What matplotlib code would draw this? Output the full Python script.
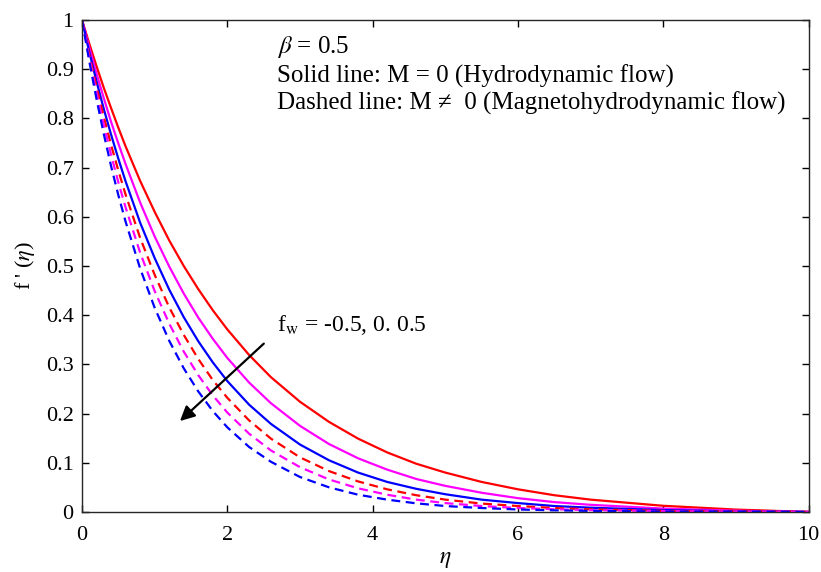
import matplotlib
matplotlib.use('Agg')
import matplotlib.pyplot as plt

plt.rcParams['font.family'] = ['Liberation Serif', 'DejaVu Serif']
plt.rcParams['mathtext.fontset'] = 'stix'

eta = [0, 0.1, 0.2, 0.3, 0.4, 0.5, 0.6, 0.8, 1.0, 1.2, 1.4, 1.6, 1.8, 2.0, 2.3, 2.6,
       3.0, 3.4, 3.8, 4.2, 4.6, 5.0, 5.5, 6.0, 6.5, 7.0, 8.0, 9.0, 10.0]

# solid lines: M = 0, fw = -0.5, 0, 0.5
solid_red = [1, 0.952, 0.906, 0.862, 0.821, 0.781, 0.743, 0.673, 0.610, 0.552, 0.500,
             0.453, 0.410, 0.371, 0.319, 0.274, 0.224, 0.183, 0.149, 0.121, 0.098,
             0.080, 0.061, 0.046, 0.034, 0.025, 0.0125, 0.0048, 0]
solid_magenta = [1, 0.944, 0.891, 0.841, 0.793, 0.749, 0.707, 0.629, 0.560, 0.499, 0.444,
                 0.395, 0.352, 0.313, 0.263, 0.221, 0.175, 0.138, 0.109, 0.086, 0.067,
                 0.053, 0.039, 0.028, 0.020, 0.0145, 0.0068, 0.0025, 0]
solid_blue = [1, 0.935, 0.875, 0.819, 0.767, 0.718, 0.672, 0.588, 0.516, 0.452, 0.396,
              0.347, 0.304, 0.266, 0.218, 0.179, 0.137, 0.105, 0.080, 0.061, 0.047,
              0.036, 0.025, 0.018, 0.012, 0.0086, 0.0038, 0.0012, 0]

# dashed lines: M != 0
dash_red = [1, 0.929, 0.864, 0.803, 0.746, 0.694, 0.645, 0.557, 0.482, 0.416, 0.360,
            0.311, 0.268, 0.232, 0.186, 0.149, 0.111, 0.083, 0.062, 0.046, 0.034,
            0.025, 0.017, 0.012, 0.008, 0.0053, 0.0022, 0.0007, 0]
dash_magenta = [1, 0.923, 0.852, 0.787, 0.726, 0.670, 0.619, 0.527, 0.449, 0.383, 0.326,
                0.278, 0.237, 0.202, 0.159, 0.125, 0.091, 0.066, 0.048, 0.035, 0.025,
                0.018, 0.012, 0.008, 0.0055, 0.0037, 0.0017, 0.0007, 0]
dash_blue = [1, 0.916, 0.839, 0.768, 0.703, 0.644, 0.590, 0.495, 0.415, 0.348, 0.292,
             0.245, 0.205, 0.172, 0.132, 0.102, 0.071, 0.050, 0.035, 0.025, 0.0175,
             0.012, 0.008, 0.005, 0.0033, 0.0021, 0.0009, 0.0004, 0]

fig = plt.figure(figsize=(8.21, 5.72), dpi=100)
ax = fig.add_axes([0.0999, 0.105, 0.885, 0.86])

lw = 1.6
ax.plot(eta, solid_red, color='#ff0000', lw=lw)
ax.plot(eta, solid_magenta, color='#ff00ff', lw=lw)
ax.plot(eta, solid_blue, color='#0000ff', lw=lw)
ax.plot(eta, dash_red, color='#ff0000', lw=lw, dashes=(4, 2.5))
ax.plot(eta, dash_magenta, color='#ff00ff', lw=lw, dashes=(4, 2.5))
ax.plot(eta, dash_blue, color='#0000ff', lw=lw, dashes=(4, 2.5))

ax.set_xlim(0, 10)
ax.set_ylim(0, 1)
ax.set_xticks([0, 2, 4, 6, 8, 10])
ax.set_yticks([i / 10 for i in range(11)])
ax.set_yticklabels(['0', '0.1', '0.2', '0.3', '0.4', '0.5', '0.6', '0.7', '0.8', '0.9', '1'])
ax.tick_params(direction='in', top=True, right=True, labelsize=16, length=5, width=1)
ax.tick_params(axis='x', pad=10)
ax.tick_params(axis='y', pad=6)
for s in ax.spines.values():
    s.set_linewidth(1)
    s.set_color('#262626')

ax.set_xlabel(r'$\eta$', fontsize=17, labelpad=3)
ax.set_ylabel(r"f ' ($\eta$)", fontsize=16, labelpad=6)

ax.text(2.69, 0.945, r'$\beta$ = 0.5', fontsize=18, va='center')
ax.text(2.69, 0.886, 'Solid line: M = 0 (Hydrodynamic flow)', fontsize=18, va='center')
ax.text(2.69, 0.831, 'Dashed line: M \u2260  0 (Magnetohydrodynamic flow)', fontsize=18, va='center')
ax.text(2.69, 0.38, r'f$_\mathrm{w}$ = -0.5, 0. 0.5', fontsize=17, va='center')

ax.annotate('', xy=(1.32, 0.181), xytext=(2.53, 0.346),
            arrowprops=dict(arrowstyle='-|>', color='black', lw=1.6, mutation_scale=22))

fig.savefig('out.png', dpi=100)
